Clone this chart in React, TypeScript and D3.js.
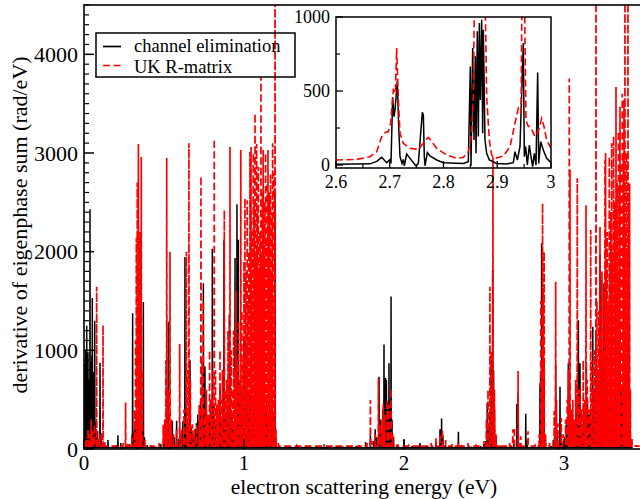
import React from "react";
import * as d3 from "d3";

// ---------- data ----------
const xTicks = [0, 1, 2, 3];
const yTicks = [0, 1000, 2000, 3000, 4000];
const insetXTicks = [2.6, 2.7, 2.8, 2.9, 3.0];
const insetYTicks = [0, 500, 1000];

// channel elimination: resonance peaks [energy eV, value rad/eV]
const channelPeaks: [number, number][] = [
  [0.002, 870], [0.006, 550], [0.010, 1000], [0.014, 650], [0.017, 1250], [0.021, 780], [0.025, 980],
  [0.029, 520], [0.033, 700], [0.0375, 2430], [0.042, 880], [0.046, 600], [0.049, 950], [0.052, 1530],
  [0.056, 450], [0.060, 780], [0.064, 350], [0.067, 1300], [0.071, 280], [0.076, 120], [0.085, 180],
  [0.092, 90], [0.100, 875], [0.106, 160], [0.115, 60], [0.130, 30], [0.150, 90], [0.175, 25],
  [0.200, 40], [0.212, 140], [0.226, -60], [0.230, 60], [0.26, 30], [0.285, 50], [0.300, 150],
  [0.304, 1375], [0.310, 180], [0.318, 240], [0.325, 300], [0.330, -50], [0.336, 380], [0.345, 250],
  [0.355, 320], [0.362, 200], [0.371, 1490], [0.378, 120], [0.395, 40], [0.45, 25], [0.48, 50],
  [0.505, 140], [0.515, 220], [0.527, 1290], [0.532, -50], [0.540, 180], [0.552, 285], [0.565, 120],
  [0.579, 285], [0.592, 100], [0.605, 160], [0.618, 280], [0.631, 1945], [0.640, 380], [0.650, 250],
  [0.6625, 900], [0.670, 220], [0.682, 140], [0.694, 200], [0.703, 260], [0.711, 350], [0.720, 280],
  [0.728, 480], [0.737, 300], [0.746, 1680], [0.756, 835], [0.764, 380], [0.772, 330], [0.781, 280],
  [0.790, 500], [0.796, 350], [0.802, 2030], [0.810, 450], [0.818, 300], [0.826, 260], [0.835, 400],
  [0.843, 280], [0.850, 600], [0.858, 330], [0.866, 250], [0.875, 2120], [0.882, 300], [0.890, 570],
  [0.898, 350], [0.908, 1360], [0.916, 400], [0.924, 320], [0.932, 280], [0.944, 1935], [0.950, 500],
  [0.956, 2480], [0.961, 700], [0.965, 2120], [0.971, 420], [0.977, 350], [0.985, 600], [0.992, 300],
  [1.000, 1140], [1.006, 1100], [1.013, 400], [1.020, 1070], [1.027, 350], [1.033, 570], [1.040, 420],
  [1.047, 650], [1.054, 300], [1.061, 500], [1.068, 330], [1.079, 870], [1.086, 420], [1.092, 680],
  [1.099, 300], [1.106, 400], [1.113, 250], [1.120, 460], [1.127, 280], [1.134, 350], [1.141, 550],
  [1.148, 260], [1.155, 380], [1.162, 300], [1.169, 420], [1.176, 250], [1.183, 320], [1.188, 200],
  [1.194, 2580], [1.200, 120], [1.215, 30], [1.28, 20], [1.33, 45], [1.36, 25], [1.45, 20], [1.55, 15],
  [1.62, 25], [1.70, 30], [1.76, 70], [1.79, 140], [1.81, 80], [1.82, 200], [1.83, 120], [1.844, 733],
  [1.852, 300], [1.860, 180], [1.868, 400], [1.875, 1060], [1.880, 350], [1.885, 720], [1.890, 700],
  [1.897, 400], [1.906, 870], [1.912, 500], [1.919, 1545], [1.925, 300], [1.935, 120], [1.96, 40],
  [2.00, 90], [2.003, -40], [2.05, 30], [2.10, 60], [2.15, 25], [2.20, 50], [2.225, 200], [2.235, 310],
  [2.243, 140], [2.26, 40], [2.30, 30], [2.34, 175], [2.36, 40], [2.42, 25], [2.48, 30], [2.51, 80],
  [2.52, 465], [2.527, 220], [2.535, 350], [2.545, 900], [2.554, 1815], [2.560, 800], [2.566, 400],
  [2.575, 120], [2.60, 30], [2.65, 20], [2.685, 52], [2.7055, 458], [2.714, 569], [2.727, 60],
  [2.761, 357], [2.77, 84], [2.80, 20], [2.850, 666], [2.854, 790], [2.860, 2085], [2.863, 903],
  [2.867, 959], [2.871, 982], [2.875, 914], [2.885, 60], [2.92, 30], [2.933, 90], [2.942, 124],
  [2.948, 850], [2.953, 200], [2.960, 135], [2.963, -40], [2.975, 630], [2.981, 158], [2.995, 60],
  [3.005, 120], [3.015, 250], [3.027, 870], [3.035, 300], [3.045, 200], [3.055, 300], [3.065, 220],
  [3.075, 500], [3.083, 350], [3.090, 1305], [3.096, 450], [3.100, 870], [3.108, 300], [3.117, 250],
  [3.125, 400], [3.133, 300], [3.140, 870], [3.147, 500], [3.155, 350], [3.160, -50], [3.165, 400],
  [3.173, 300], [3.180, 1240], [3.187, 600], [3.193, 400], [3.200, 1200], [3.207, 500], [3.213, 350],
  [3.219, 700], [3.225, 1965], [3.230, 600], [3.235, 1710], [3.240, 500], [3.245, 800], [3.250, 1680],
  [3.255, 600], [3.260, 1900], [3.265, 450], [3.270, 700], [3.275, 400], [3.280, 500], [3.285, 350],
  [3.290, 900], [3.295, 450], [3.300, 600], [3.305, 350], [3.310, 400], [3.315, 550], [3.320, 700],
  [3.325, 400], [3.330, 500], [3.335, 300], [3.340, 900], [3.345, 500], [3.350, 1200], [3.355, 400],
  [3.360, 600], [3.365, 350], [3.370, 500], [3.375, 700], [3.380, 900], [3.385, 350], [3.390, 400],
  [3.395, 600], [3.400, 300], [3.405, 450], [3.410, 200], [3.418, 100],
];

// UK R-matrix: resonance peaks [energy eV, value rad/eV]
const rmatrixPeaks: [number, number][] = [
  [0.005, 80], [0.015, 120], [0.025, 200], [0.035, 150], [0.045, 300], [0.055, 180], [0.065, 250],
  [0.079, 1645], [0.088, 100], [0.100, 150], [0.119, 1255], [0.130, 70], [0.16, 30], [0.20, 40],
  [0.245, 60], [0.260, 470], [0.275, 60], [0.300, 120], [0.315, 400], [0.322, 1100], [0.327, 2140],
  [0.333, 2700], [0.340, 3090], [0.345, 1500], [0.351, 2200], [0.358, 2960], [0.365, 800], [0.380, 100],
  [0.42, 40], [0.47, 60], [0.495, 245], [0.505, 300], [0.512, 900], [0.517, 2950], [0.525, 600],
  [0.5375, 2000], [0.545, 300], [0.560, 150], [0.578, 200], [0.598, 1065], [0.610, 200], [0.625, 400],
  [0.640, 2000], [0.647, 800], [0.656, 3100], [0.665, 700], [0.678, 250], [0.690, 200], [0.705, 250],
  [0.720, 445], [0.731, 2765], [0.738, 900], [0.746, 1500], [0.755, 400], [0.765, 600], [0.775, 350],
  [0.785, 1000], [0.795, 500], [0.805, 800], [0.814, 3140], [0.822, 800], [0.830, 450], [0.840, 500],
  [0.850, 1000], [0.858, 500], [0.865, 800], [0.877, 2420], [0.884, 600], [0.892, 700], [0.900, 1200],
  [0.9125, 3060], [0.920, 1000], [0.928, 600], [0.935, 1200], [0.942, 800], [0.950, 1600], [0.957, 900],
  [0.965, 1300], [0.972, 700], [0.980, 3030], [0.987, 1400], [0.994, 900], [1.000, 1900], [1.006, 2540],
  [1.012, 1800], [1.017, 1200], [1.020, 2520], [1.025, 1500], [1.030, 2000], [1.0375, 3010],
  [1.044, 3060], [1.048, 1600], [1.052, 2200], [1.058, 3000], [1.063, 2500], [1.069, 3400],
  [1.074, 2000], [1.079, 3090], [1.084, 2400], [1.090, 2860], [1.095, 1800], [1.100, 2200],
  [1.106, 3770], [1.110, 2000], [1.115, 2600], [1.120, 3030], [1.125, 1900], [1.130, 2500],
  [1.135, 3000], [1.140, 2100], [1.145, 2700], [1.150, 3030], [1.155, 2000], [1.160, 2600],
  [1.166, 2790], [1.170, 1800], [1.175, 2400], [1.179, 3100], [1.183, 2000], [1.187, 2800],
  [1.191, 1500], [1.194, 5000], [1.200, 200], [1.215, 60], [1.25, 30], [1.35, 25], [1.45, 30],
  [1.55, 25], [1.65, 30], [1.72, 40], [1.77, 60], [1.790, 496], [1.800, 80], [1.820, 150], [1.840, 720],
  [1.850, 250], [1.862, 300], [1.870, 450], [1.880, 350], [1.895, 500], [1.905, 450], [1.919, 615],
  [1.930, 150], [1.96, 50], [2.03, 35], [2.10, 40], [2.17, 60], [2.20, 110], [2.225, 150], [2.240, 200],
  [2.26, 90], [2.30, 50], [2.34, 70], [2.40, 60], [2.45, 35], [2.50, 80], [2.515, 300], [2.525, 600],
  [2.537, 1645], [2.545, 1000], [2.556, 2960], [2.565, 600], [2.575, 150], [2.60, 50], [2.66, 60],
  [2.68, 200], [2.69, 220], [2.713, 790], [2.73, 130], [2.775, 180], [2.82, 50], [2.845, 150],
  [2.855, 1500], [2.860, 900], [2.866, 2490], [2.871, 1600], [2.876, 2000], [2.885, 150], [2.91, 60],
  [2.939, 384], [2.948, 1695], [2.953, 500], [2.962, 260], [2.983, 316], [2.995, 150], [3.010, 300],
  [3.020, 500], [3.028, 800], [3.033, 3755], [3.0375, 2830], [3.045, 400], [3.055, 500], [3.065, 300],
  [3.073, 700], [3.083, 2745], [3.090, 600], [3.100, 600], [3.110, 400], [3.120, 900], [3.130, 500],
  [3.1375, 2470], [3.145, 700], [3.155, 400], [3.167, 2220], [3.175, 900], [3.183, 600], [3.190, 1000],
  [3.200, 5000], [3.206, 1500], [3.212, 800], [3.218, 1400], [3.225, 2250], [3.231, 1200], [3.237, 1800],
  [3.243, 1000], [3.249, 1600], [3.256, 2930], [3.260, 3000], [3.265, 1800], [3.270, 2200],
  [3.276, 1500], [3.283, 2960], [3.288, 1800], [3.293, 2400], [3.298, 3100], [3.304, 2000],
  [3.310, 3170], [3.314, 1900], [3.318, 2500], [3.325, 3670], [3.329, 2000], [3.333, 2700],
  [3.337, 1800], [3.340, 3220], [3.345, 2600], [3.350, 3470], [3.354, 2000], [3.357, 2900],
  [3.361, 2100], [3.364, 3600], [3.368, 2200], [3.370, 3000], [3.375, 3540], [3.378, 2000],
  [3.381, 5000], [3.386, 2200], [3.390, 3000], [3.395, 2000], [3.400, 5000], [3.405, 2500],
  [3.410, 2690], [3.415, 600], [3.425, 100], [3.45, 40],
];

// inset curves (2.6 – 3.0 eV), traced points [energy eV, value rad/eV]
const insetChannel: [number, number][] = [
  [2.6000, 5], [2.6384, 7], [2.6633, 8], [2.6757, 25], [2.6850, 52], [2.6943, 16], [2.7005, 38],
  [2.7023, 11], [2.7054, 458], [2.7079, 327], [2.7098, 372], [2.7141, 569], [2.7166, 260], [2.7191, 56],
  [2.7228, 11], [2.7253, 38], [2.7271, -5], [2.7315, 74], [2.7377, 45], [2.7451, 11], [2.7488, -5],
  [2.7532, 11], [2.7606, 357], [2.7625, 339], [2.7643, 56], [2.7656, -5], [2.7699, 84], [2.7749, 61],
  [2.7873, 34], [2.7997, 16], [2.8369, 11], [2.8462, 23], [2.8499, 666], [2.8512, -5], [2.8543, 790],
  [2.8567, 169], [2.8592, 734], [2.8605, 79], [2.8629, 903], [2.8648, 192], [2.8667, 959], [2.8685, 440],
  [2.8710, 982], [2.8729, 214], [2.8741, 914], [2.8772, 169], [2.8803, 79], [2.8853, 34], [2.8989, 11],
  [2.9175, 7], [2.9299, 16], [2.9330, 90], [2.9374, 34], [2.9423, 124], [2.9485, 824], [2.9504, 56],
  [2.9529, 124], [2.9560, 0], [2.9597, 135], [2.9628, 56], [2.9659, -11], [2.9690, 79], [2.9721, 0],
  [2.9752, 625], [2.9771, 11], [2.9808, 158], [2.9857, 102], [2.9919, 45], [3.0000, 16],
];

const insetRMatrix: [number, number][] = [
  [2.6000, 34], [2.6384, 38], [2.6633, 56], [2.6757, 90], [2.6850, 192], [2.6912, 219], [2.6974, 226],
  [2.7017, 282], [2.7067, 508], [2.7104, 485], [2.7129, 790], [2.7160, 440], [2.7191, 214], [2.7253, 147],
  [2.7377, 113], [2.7532, 106], [2.7625, 147], [2.7718, 187], [2.7749, 174], [2.7873, 113], [2.8059, 68],
  [2.8245, 45], [2.8369, 52], [2.8462, 90], [2.8524, 214], [2.8555, 463], [2.8586, 1500], [2.8629, 2500],
  [2.8667, 1400], [2.8710, 2500], [2.8772, 1200], [2.8803, 463], [2.8853, 169], [2.8896, 68],
  [2.8958, 45], [2.9113, 61], [2.9237, 124], [2.9330, 282], [2.9392, 384], [2.9442, 350], [2.9473, 1700],
  [2.9504, 1200], [2.9535, 305], [2.9578, 260], [2.9609, 260], [2.9659, 226], [2.9702, 192],
  [2.9764, 226], [2.9826, 316], [2.9870, 260], [2.9919, 169], [3.0000, 113],
];

const legendLabels = ["channel elimination", "UK R-matrix"];

// ---------- layout ----------
const W = 640;
const H = 499;
const M = { left: 84, right: 644, top: 5, bottom: 449 };
const IN = { left: 336, right: 551, top: 17, bottom: 168 };
const FONT = '"Liberation Serif", "Times New Roman", Times, "DejaVu Serif", serif';
const RED = "#ff0000";
const DASH = "7,3.5";
const tStyle = { fontFamily: FONT };

function spikes(peaks: [number, number][], base: number, start: number, end: number): [number, number][] {
  const hw = 0.0012;
  const sorted = [...peaks].sort((a, b) => a[0] - b[0]);
  const pts: [number, number][] = [[start, base]];
  for (const [e, v] of sorted) {
    pts.push([e - hw, base], [e, v], [e + hw, base]);
  }
  pts.push([end, base]);
  return pts;
}

export default function App() {
  const x = d3.scaleLinear().domain([0, 3.5]).range([M.left, M.right]);
  const y = d3.scaleLinear().domain([0, 4500]).range([M.bottom, M.top]);
  const xi = d3.scaleLinear().domain([2.6, 3.0]).range([IN.left, IN.right]);
  const yi = d3.scaleLinear().domain([-20, 1000]).range([IN.bottom, IN.top]);

  const line = d3.line<[number, number]>().x((d) => x(d[0])).y((d) => y(d[1]));
  const lineI = d3.line<[number, number]>().x((d) => xi(d[0])).y((d) => yi(d[1]));

  const blackPath = line(spikes(channelPeaks, 12, 0, 3.43)) || "";
  const redPath = line(spikes(rmatrixPeaks, 30, 0, 3.5)) || "";

  const yMinor = y.ticks(45).filter((t) => t % 1000 !== 0);
  const xMinor = x.ticks(7).filter((t) => t % 1 !== 0);
  const yiMinor = [250, 750];
  const xiMinor = [2.65, 2.75, 2.85, 2.95];

  return (
    <svg
      width={W}
      height={H}
      viewBox={`0 0 ${W} ${H}`}
      style={{ position: "absolute", left: 0, top: 0, background: "#fff", fontFamily: FONT }}
    >
      <defs>
        <clipPath id="mainClip">
          <rect x={M.left} y={M.top} width={M.right - M.left} height={M.bottom - M.top} />
        </clipPath>
        <clipPath id="insetClip">
          <rect x={IN.left} y={IN.top} width={IN.right - IN.left} height={IN.bottom - IN.top} />
        </clipPath>
      </defs>
      <rect x={0} y={0} width={W} height={H} fill="#fff" />

      {/* main data */}
      <g clipPath="url(#mainClip)">
        <path d={blackPath} fill="none" stroke="#000" strokeWidth={1.5} />
        <path d={redPath} fill="none" stroke={RED} strokeWidth={1.7} strokeDasharray={DASH} />
      </g>

      {/* main frame */}
      <rect
        x={M.left}
        y={M.top}
        width={M.right - M.left}
        height={M.bottom - M.top}
        fill="none"
        stroke="#000"
        strokeWidth={1.6}
      />
      {yTicks.map((t) => (
        <g key={"yt" + t}>
          <line x1={M.left} x2={M.left + 10} y1={y(t)} y2={y(t)} stroke="#000" strokeWidth={1.5} />
          <text x={78} y={y(t)} dy="0.35em" textAnchor="end" fontSize={22} style={tStyle}>
            {t}
          </text>
        </g>
      ))}
      {yMinor.map((t) => (
        <line key={"ym" + t} x1={M.left} x2={M.left + 5} y1={y(t)} y2={y(t)} stroke="#000" strokeWidth={1.2} />
      ))}
      {xTicks.map((t) => (
        <g key={"xt" + t}>
          <line x1={x(t)} x2={x(t)} y1={M.bottom} y2={M.bottom - 10} stroke="#000" strokeWidth={1.5} />
          <text x={x(t)} y={470} textAnchor="middle" fontSize={21} style={tStyle}>
            {t}
          </text>
        </g>
      ))}
      {xMinor.map((t) => (
        <line key={"xm" + t} x1={x(t)} x2={x(t)} y1={M.bottom} y2={M.bottom - 5} stroke="#000" strokeWidth={1.2} />
      ))}
      <text x={364} y={494} textAnchor="middle" fontSize={21.5} style={tStyle}>
        electron scattering energy (eV)
      </text>
      <text transform={`translate(27, 225) rotate(-90)`} textAnchor="middle" fontSize={22} style={tStyle}>
        derivative of eigenphase sum (rad/eV)
      </text>

      {/* legend */}
      <rect x={96} y={33} width={199} height={44} fill="none" stroke="#000" strokeWidth={1.5} />
      <line x1={103} x2={121} y1={46.5} y2={46.5} stroke="#000" strokeWidth={1.7} />
      <line x1={103} x2={124} y1={65.5} y2={65.5} stroke={RED} strokeWidth={1.7} strokeDasharray={DASH} />
      <text x={134} y={52} fontSize={18.5} style={tStyle}>
        {legendLabels[0]}
      </text>
      <text x={134} y={72.8} fontSize={18.5} style={tStyle}>
        {legendLabels[1]}
      </text>

      {/* inset */}
      <g clipPath="url(#insetClip)">
        <path d={lineI(insetChannel) || ""} fill="none" stroke="#000" strokeWidth={1.5} />
        <path d={lineI(insetRMatrix) || ""} fill="none" stroke={RED} strokeWidth={1.6} strokeDasharray={DASH} />
      </g>
      <rect
        x={IN.left}
        y={IN.top}
        width={IN.right - IN.left}
        height={IN.bottom - IN.top}
        fill="none"
        stroke="#000"
        strokeWidth={1.5}
      />
      {insetYTicks.map((t) => (
        <g key={"iyt" + t}>
          <line x1={IN.left} x2={IN.left + 7} y1={yi(t)} y2={yi(t)} stroke="#000" strokeWidth={1.3} />
          <text x={330} y={yi(t)} dy="0.35em" textAnchor="end" fontSize={18} style={tStyle}>
            {t}
          </text>
        </g>
      ))}
      {yiMinor.map((t) => (
        <line key={"iym" + t} x1={IN.left} x2={IN.left + 4} y1={yi(t)} y2={yi(t)} stroke="#000" strokeWidth={1.2} />
      ))}
      {insetXTicks.map((t) => (
        <g key={"ixt" + t}>
          <line x1={xi(t)} x2={xi(t)} y1={IN.bottom} y2={IN.bottom - 7} stroke="#000" strokeWidth={1.3} />
          <text x={xi(t)} y={188} textAnchor="middle" fontSize={18} style={tStyle}>
            {t === 3 ? "3" : t.toFixed(1)}
          </text>
        </g>
      ))}
      {xiMinor.map((t) => (
        <line key={"ixm" + t} x1={xi(t)} x2={xi(t)} y1={IN.bottom} y2={IN.bottom - 4} stroke="#000" strokeWidth={1.2} />
      ))}
    </svg>
  );
}
